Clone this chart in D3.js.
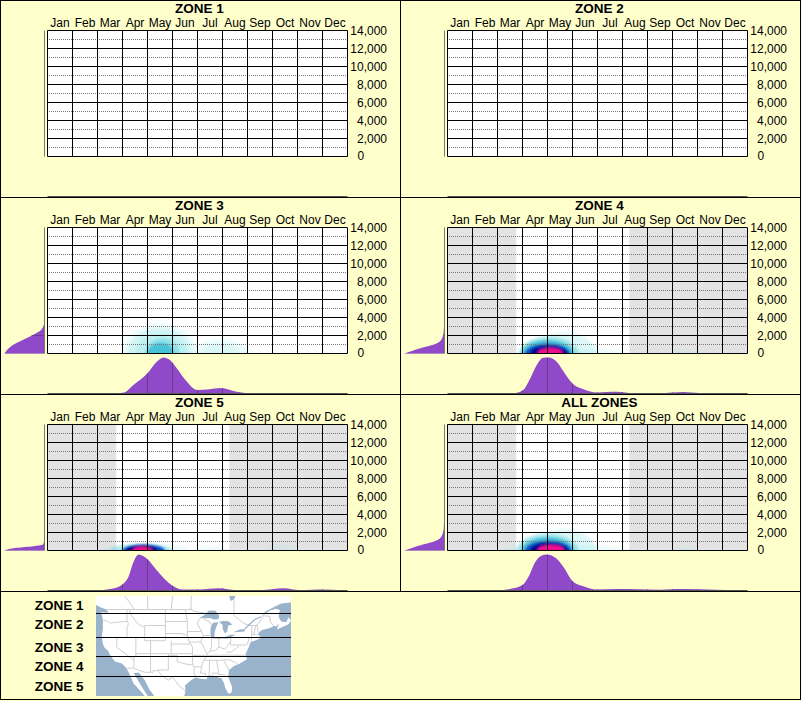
<!DOCTYPE html>
<html>
<head>
<meta charset="utf-8">
<script src="https://cdn.jsdelivr.net/npm/d3@7"></script>
<style>
  html, body { margin: 0; padding: 0; background: #ffffcc; }
  svg { display: block; font-family: "Liberation Sans", Arial, sans-serif; }
  .title, .legend-label { font-size: 13.5px; font-weight: 700; fill: #000; }
  .axis text { font-size: 12px; fill: #000; font-family: "Liberation Sans", Arial, sans-serif; }
  .axis path { display: none; }
</style>
</head>
<body>
<svg id="chart" width="801" height="701"></svg>
<script>
// ---- chart values ----
const months = ["Jan","Feb","Mar","Apr","May","Jun","Jul","Aug","Sep","Oct","Nov","Dec"];
const yTicks = [0, 2000, 4000, 6000, 8000, 10000, 12000, 14000];
const yMinor = [1000, 3000, 5000, 7000, 9000, 11000, 13000];
const yMax = 14000;
const panelTitles = ["ZONE 1", "ZONE 2", "ZONE 3", "ZONE 4", "ZONE 5", "ALL ZONES"];

// months with no growing season (month position from, to) per panel
const offSeason = [
  [],
  [],
  [],
  [[0, 2.75], [7.27, 12]],
  [[0, 2.75], [7.27, 12]],
  [[0, 2.75], [7.27, 12]]
];

// density along the year: [month position, percent of peak]
const monthDensity = [
  [],
  [],
  [[2.5,0],[3.04,2],[3.45,24],[4,56],[4.37,88],[4.64,100],[4.9,93],[5.17,70],[5.57,33],[5.97,10],[6.5,12],[6.9,15],[7.44,7],[7.97,1],[8.4,0]],
  [[2.64,0],[3,8],[3.31,42],[3.57,79],[3.83,99],[4.04,100],[4.37,88],[4.64,61],[5,28],[5.44,12],[5.97,3],[6.77,5],[7.44,1],[8.5,1],[9.44,4],[10.1,1],[10.8,0]],
  [[1.97,0],[2.5,4],[3,17],[3.24,38],[3.44,79],[3.64,100],[4.01,86],[4.37,56],[5,13],[5.37,3],[6.1,3],[6.84,6],[7.57,1],[8.5,1],[9.44,6],[10.1,1],[11.04,3],[11.8,0]],
  [[2.1,0],[2.5,4],[3,15],[3.24,38],[3.51,79],[3.77,97],[3.97,100],[4.37,88],[4.64,65],[5,26],[5.44,12],[5.97,3],[6.77,4],[8.5,2],[9.44,4],[10.77,2],[11.44,1],[11.84,0]]
];

// density along the y axis: [value, percent of peak]
const valueDensity = [
  [],
  [],
  [[0,100],[960,78],[1520,53],[2070,28],[2630,8],[3550,0]],
  [[0,100],[590,60],[960,28],[1520,8],[2440,2],[4660,0]],
  [[0,100],[300,69],[480,28],[700,3],[1330,0]],
  [[0,100],[590,60],[960,28],[1520,8],[2440,2],[4660,0]]
];

// heat colour levels, low to high
const heatColors = ["#7fe5e5","#7fe5e5","#4fd0dc","#2ab4d0","#1a90c8","#0a50c8","#0020c0","#000090","#8a1090","#f0108c"];
const heatOpacity = [0.15, 0.25, 0.4, 0.7, 1, 1, 1, 1, 1, 1];

// contour bands: [month from, month to, top value, colour level]
const heatBands = [
  [],
  [],
  [[3,6,3300,0],[3.2,5.8,2800,1],[3.5,5.6,2200,1],[3.9,5.3,1700,2],[4,5.05,1200,3],[5.9,8,1650,0],[6.2,7.7,1100,0]],
  [[2.7,7.2,500,0],[9,10.2,300,0],[3.6,5.9,2500,0],[2.9,6,2200,0],[2.85,5.25,1850,2],[2.95,5.05,1500,3],[3.1,4.9,1100,5],[3.3,4.78,850,7],[3.6,4.62,650,9]],
  [[2.1,5.7,750,0],[6,7.2,400,0],[8.8,10,600,0],[2.5,5,720,2],[3,4.7,700,5],[3.15,4.4,600,7],[3.4,4.2,430,9]],
  [[2.1,7.2,600,0],[9.1,10,400,0],[3.6,5.9,2500,0],[2.8,6,2200,0],[2.75,5.25,1850,2],[2.95,5.05,1500,3],[3.1,4.95,1100,5],[3.3,4.82,850,7],[3.6,4.68,650,9]]
];

// legend
const zoneNames = ["ZONE 1", "ZONE 2", "ZONE 3", "ZONE 4", "ZONE 5"];
const zoneEdges = [48, 42, 36, 30]; // latitude
const zoneLabelLat = [50.2, 45.4, 39.1, 33.1, 27.4];

// map outlines as [lon, lat]
const landOutline = [[-128,51],[-124.5,49.5],[-123,49],[-122.5,48.2],[-124.6,48.3],[-124.1,46.5],[-124.1,44],[-124.4,42.5],[-124.2,40.5],[-123.7,39],[-122.5,37.8],[-121.9,36.5],[-120.6,34.6],[-118.5,34],[-117.2,32.6],[-116,30.5],[-114.8,28],[-112.5,26],[-110.5,24],[-109.5,22.9],[-110,24.5],[-111.5,26.5],[-113,28.5],[-114.7,31],[-113,31.2],[-111,29],[-109.5,26.5],[-108,24.8],[-106.5,23],[-98,22],[-97.7,24],[-97.2,26],[-97.3,27.5],[-95,29],[-93.5,29.7],[-91,29.3],[-89.3,29.2],[-89,30.2],[-87,30.3],[-85,29.7],[-83.8,29.5],[-82.8,28],[-82.5,27],[-81.5,25.5],[-81,25.1],[-80.3,25.4],[-80,26.8],[-80.6,28.3],[-81.3,30],[-81,32],[-79.5,33.2],[-77.9,33.9],[-75.6,35.3],[-76,37],[-75.5,38],[-74.5,39.5],[-74,40.6],[-72,41],[-70.5,41.6],[-70,42],[-70.8,42.8],[-70,43.8],[-68,44.4],[-67,44.9],[-66,44.8],[-65,45.5],[-65.8,44],[-64,44.5],[-61,45.3],[-60,46.3],[-61,47],[-62,45.8],[-64,46],[-65,47],[-65,48.2],[-64.3,48.8],[-66,49.2],[-68,48.8],[-70,47.2],[-69,48.5],[-67,49.7],[-64,50.6],[-60,50.8],[-60,56],[-130,56]];
const lakes = [
  [[-92,46.8],[-90,47.7],[-88.5,48.8],[-86,48.7],[-84.7,47.5],[-84.8,46.6],[-86.5,46.5],[-88,46.9],[-89.5,46.8]],
  [[-87.6,41.7],[-86.5,42],[-86.3,43.5],[-85.5,45],[-85,45.8],[-87,45.7],[-87.8,44.5],[-87.9,43]],
  [[-84.7,45.9],[-83.4,45.2],[-83.3,44],[-82.5,43],[-81.7,43.5],[-81.3,45],[-80,45.2],[-81,46],[-83,46.2]],
  [[-83.4,41.7],[-81.5,41.6],[-79,42.7],[-80.5,42.7],[-82.5,42.1]],
  [[-79.7,43.3],[-76.3,43.5],[-76.3,44.1],[-78,43.95]],
  [[-81,52.6],[-79,52.6],[-79.5,51.6],[-80.5,51.2]]
];
const river = [[-76.3,44.1],[-75,45],[-72,46.5],[-70,47.2]];
const borders = [
  [[-123,49],[-95.2,49],[-95,49.3],[-94.6,48.7],[-92,48.3],[-89.6,48]],
  [[-74.7,45],[-71.5,45],[-70.3,45.9],[-70,46.7],[-69.2,47.4],[-68,47.3],[-67.8,45.7],[-67,44.9]],
  [[-124,46.2],[-123,46.2],[-122,45.6],[-119,45.9],[-117,46]],
  [[-117,49],[-117,46],[-116.9,45.9],[-116.5,45.5],[-117,44.3],[-117,42]],
  [[-124.2,42],[-111,42]],
  [[-120,42],[-120,39],[-114.6,35],[-114.7,32.7]],
  [[-114,42],[-114,36.2],[-114.7,36],[-114.6,35]],
  [[-116,49],[-116,48],[-114.5,46.6],[-113.5,45.5],[-111,44.5]],
  [[-111,45],[-111,41],[-104,41]],
  [[-111,45],[-104,45]],
  [[-104,49],[-104,41]],
  [[-114,37],[-94.6,37]],
  [[-109,41],[-109,31.3]],
  [[-102,41],[-102,37]],
  [[-104,43],[-98.5,43],[-96.5,42.5]],
  [[-104,46],[-96.5,46]],
  [[-102,40],[-95.3,40]],
  [[-103,37],[-103,32],[-106.6,32],[-106.5,31.8]],
  [[-103,36.5],[-100,36.5],[-100,34.6],[-97,33.8],[-94.5,33.6]],
  [[-109,31.3],[-108.2,31.3],[-108.2,31.8],[-106.5,31.8]],
  [[-114.8,32.5],[-111,31.3],[-109,31.3]],
  [[-117.1,32.5],[-114.8,32.7]],
  [[-106.5,31.8],[-104.5,29.7],[-103,29],[-101.5,29.8],[-99.5,27.5],[-97.2,25.9]],
  [[-94.5,33.6],[-94,33],[-94,31.5],[-93.6,30]],
  [[-94.6,39.1],[-94.6,36.5],[-94.5,33.6]],
  [[-95.8,40.6],[-91.5,40.6]],
  [[-94.6,36.5],[-90,36.5],[-89.5,36]],
  [[-96.5,43.5],[-91.2,43.5]],
  [[-97.2,49],[-96.5,46],[-96.5,42.5],[-95.8,40.6],[-94.6,39.1]],
  [[-92.1,46.7],[-92.8,45.5],[-91.2,43.5],[-90.6,42.5],[-91.5,40.6],[-90.2,38.7],[-89.2,37],[-89.5,36],[-90.5,35],[-91.2,33],[-91.6,31],[-89.7,31],[-89.6,30.2]],
  [[-94,33],[-91.2,33]],
  [[-90.4,46.6],[-88,45.8],[-87.6,45.1]],
  [[-90.6,42.5],[-87.8,42.5]],
  [[-87.5,41.7],[-87.5,39.3],[-88,37.8]],
  [[-84.8,41.7],[-84.8,39.1]],
  [[-87,41.75],[-83.5,41.7]],
  [[-89.2,37],[-88,37.8],[-86,38],[-84.8,39.1],[-82.6,38.4],[-80.6,40.6]],
  [[-80.5,42],[-80.5,39.7],[-75.8,39.7]],
  [[-79.8,42],[-75.3,42],[-74.7,41.4],[-75.5,39.8]],
  [[-73.4,45],[-73.5,42],[-73.6,41]],
  [[-73.5,42],[-71.1,42]],
  [[-71.5,45],[-72.5,42.8]],
  [[-71,45.3],[-70.7,43.1]],
  [[-73.3,42.75],[-71,42.8]],
  [[-89.5,36.5],[-81.7,36.6],[-75.9,36.55]],
  [[-82,37.5],[-80.3,37.5],[-78,39.3]],
  [[-90.3,35],[-84.3,35],[-81,35.2],[-79,34.3],[-78.5,33.9]],
  [[-88.2,35],[-88.4,30.3]],
  [[-85.6,35],[-85,32],[-85,31]],
  [[-87.6,31],[-85,31],[-85,30.7],[-82.2,30.5]],
  [[-83,35],[-81,32]],
  [[-95.2,49],[-95,53]],
  [[-79.5,51.5],[-79.5,47.5],[-76.5,45.5],[-74.5,45]],
  [[-114.5,49],[-118,53]],
  [[-110,49],[-110,53]],
  [[-102,49],[-101.5,53]]
];

class ZonePanel {
  constructor(_config, _index) {
    this.config = {
      parentElement: _config.parentElement,
      left: _config.left,
      top: _config.top,
      plotWidth: 300,
      plotHeight: 126,
      marginGap: 40
    };
    this.index = _index;
    this.initVis();
  }

  initVis() {
    let vis = this;

    vis.xScale = d3.scaleLinear().domain([0, 12]).range([0, vis.config.plotWidth]);
    vis.monthScale = d3.scaleBand().domain(months).range([0, vis.config.plotWidth]);
    vis.yScale = d3.scaleLinear().domain([0, yMax]).range([vis.config.plotHeight, 0]);
    // side charts, both 0 to peak
    vis.monthDensityScale = d3.scaleLinear().domain([0, 100]).range([vis.config.plotHeight + vis.config.marginGap, vis.config.plotHeight + 4]);
    vis.valueDensityScale = d3.scaleLinear().domain([0, 100]).range([-3, -43]);

    vis.chart = vis.config.parentElement.append("g")
      .attr("transform", `translate(${vis.config.left},${vis.config.top})`);

    vis.renderVis();
  }

  renderVis() {
    let vis = this;
    const w = vis.config.plotWidth, h = vis.config.plotHeight;
    const clipId = `plot-clip-${vis.index}`;

    vis.chart.append("rect").attr("width", w).attr("height", h).attr("fill", "#fff");

    vis.chart.selectAll(".off-season")
      .data(offSeason[vis.index])
      .join("rect")
      .attr("class", "off-season")
      .attr("x", d => vis.xScale(d[0]))
      .attr("width", d => vis.xScale(d[1]) - vis.xScale(d[0]))
      .attr("height", h)
      .attr("fill", "#e3e3e3");

    vis.chart.append("clipPath").attr("id", clipId)
      .append("rect").attr("width", w).attr("height", h);

    // blur softens the contour steps into the smooth kernel look
    vis.chart.append("g").attr("clip-path", `url(#${clipId})`)
      .append("g").attr("filter", "url(#heat-blur)")
      .selectAll("ellipse")
      .data(heatBands[vis.index])
      .join("ellipse")
      .attr("cx", d => (vis.xScale(d[0]) + vis.xScale(d[1])) / 2)
      .attr("cy", h)
      .attr("rx", d => (vis.xScale(d[1]) - vis.xScale(d[0])) / 2)
      .attr("ry", d => h - vis.yScale(d[2]))
      .attr("fill", d => heatColors[d[3]])
      .attr("fill-opacity", d => heatOpacity[d[3]]);

    // dotted midlines, then solid grid
    vis.chart.selectAll(".minor")
      .data(yMinor)
      .join("line")
      .attr("class", "minor")
      .attr("x1", 0).attr("x2", w)
      .attr("y1", d => vis.yScale(d)).attr("y2", d => vis.yScale(d))
      .attr("stroke", "#777")
      .attr("stroke-dasharray", "1 1")
      .attr("stroke-dashoffset", 0.5);

    vis.chart.selectAll(".major")
      .data(yTicks)
      .join("line")
      .attr("class", "major")
      .attr("x1", 0).attr("x2", w)
      .attr("y1", d => vis.yScale(d)).attr("y2", d => vis.yScale(d))
      .attr("stroke", "#000");

    vis.chart.selectAll(".month-line")
      .data(d3.range(0, 13))
      .join("line")
      .attr("class", "month-line")
      .attr("x1", d => vis.xScale(d)).attr("x2", d => vis.xScale(d))
      .attr("y1", 0).attr("y2", h)
      .attr("stroke", "#000");

    // month labels
    vis.chart.append("g")
      .attr("class", "axis")
      .call(d3.axisTop(vis.monthScale).tickSize(0).tickPadding(3.5));

    // value labels, the zero sits left aligned in the original
    const yAxisG = vis.chart.append("g")
      .attr("class", "axis")
      .attr("transform", `translate(${w},0)`)
      .call(d3.axisRight(vis.yScale).tickValues(yTicks).tickSize(0).tickFormat(d3.format(",")));
    yAxisG.selectAll("text")
      .attr("text-anchor", d => d === 0 ? "start" : "end")
      .attr("x", d => d === 0 ? 10 : 39.5)
      .attr("y", d => d === 0 ? -1 : 0);

    vis.chart.append("text")
      .attr("class", "title")
      .attr("text-anchor", "middle")
      .attr("x", w / 2 + 2)
      .attr("y", -18)
      .text(panelTitles[vis.index]);

    vis.renderMonthDensity();
    vis.renderValueDensity();
  }

  renderMonthDensity() {
    let vis = this;
    const h = vis.config.plotHeight, w = vis.config.plotWidth;
    const baseline = h + vis.config.marginGap;
    const clipId = `month-density-${vis.index}`;
    const area = d3.area()
      .x(d => vis.xScale(d[0]))
      .y0(baseline)
      .y1(d => vis.monthDensityScale(d[1]))
      .curve(d3.curveMonotoneX);

    vis.chart.append("clipPath").attr("id", clipId)
      .append("path").attr("d", area(monthDensity[vis.index]));

    vis.chart.append("path")
      .attr("d", area(monthDensity[vis.index]))
      .attr("fill", "#8f49c9");

    vis.chart.append("g").attr("clip-path", `url(#${clipId})`)
      .selectAll("line")
      .data(d3.range(1, 12))
      .join("line")
      .attr("x1", d => vis.xScale(d)).attr("x2", d => vis.xScale(d))
      .attr("y1", h).attr("y2", baseline)
      .attr("stroke", "#6a3a90");

    vis.chart.append("line")
      .attr("x1", 0).attr("x2", w)
      .attr("y1", baseline).attr("y2", baseline)
      .attr("stroke", "#555");
  }

  renderValueDensity() {
    let vis = this;
    const h = vis.config.plotHeight;
    const clipId = `value-density-${vis.index}`;
    const area = d3.area()
      .y(d => vis.yScale(d[0]))
      .x0(-3)
      .x1(d => vis.valueDensityScale(d[1]))
      .curve(d3.curveMonotoneY);

    vis.chart.append("clipPath").attr("id", clipId)
      .append("path").attr("d", area(valueDensity[vis.index]));

    vis.chart.append("path")
      .attr("d", area(valueDensity[vis.index]))
      .attr("fill", "#8f49c9");

    vis.chart.append("g").attr("clip-path", `url(#${clipId})`)
      .selectAll("line")
      .data(yTicks)
      .join("line")
      .attr("x1", -43).attr("x2", -3)
      .attr("y1", d => vis.yScale(d)).attr("y2", d => vis.yScale(d))
      .attr("stroke", "#6a3a90");

    vis.chart.append("line")
      .attr("x1", -3).attr("x2", -3)
      .attr("y1", 0).attr("y2", h)
      .attr("stroke", "#777");
  }
}

const svg = d3.select("#chart");

svg.append("rect").attr("width", 801).attr("height", 701).attr("fill", "#ffffcc");

svg.append("defs").append("filter")
  .attr("id", "heat-blur")
  .attr("x", "-30%").attr("y", "-30%").attr("width", "160%").attr("height", "160%")
  .append("feGaussianBlur").attr("stdDeviation", 1.3);

panelTitles.forEach((d, i) => {
  new ZonePanel({
    parentElement: svg,
    left: 47.5 + (i % 2) * 400,
    top: 30.5 + Math.floor(i / 2) * 197
  }, i);
});

// ---- legend map ----
const mapBox = {x: 96, y: 596, width: 195, height: 100};
const lonScale = d3.scaleLinear()
  .domain([-127, -117, -97, -81, -75.6, -71, -67, -60])
  .range([93, 127, 186, 229, 247, 257, 274, 291]);
const latScale = d3.scaleLinear()
  .domain([24.5, 30, 36, 42, 48, 52.5])
  .range([696, 676.5, 657, 637.5, 613.5, 596]);

const mapProjection = d3.geoTransform({
  point: function(lon, lat) { this.stream.point(lonScale(lon), latScale(lat)); }
});
const mapPath = d3.geoPath(mapProjection);
const seaColor = "#9ab3cc";

svg.append("clipPath").attr("id", "map-clip")
  .append("rect")
  .attr("x", mapBox.x).attr("y", mapBox.y)
  .attr("width", mapBox.width).attr("height", mapBox.height);

const mapG = svg.append("g").attr("clip-path", "url(#map-clip)");

mapG.append("rect")
  .attr("x", mapBox.x).attr("y", mapBox.y)
  .attr("width", mapBox.width).attr("height", mapBox.height)
  .attr("fill", seaColor);

mapG.append("path")
  .attr("d", mapPath({type: "Polygon", coordinates: [landOutline.concat([landOutline[0]])]}))
  .attr("fill", "#fff");

mapG.append("path")
  .attr("d", mapPath({type: "MultiLineString", coordinates: borders}))
  .attr("fill", "none")
  .attr("stroke", "#cfcfcf")
  .attr("stroke-width", 1);

mapG.selectAll(".lake")
  .data(lakes)
  .join("path")
  .attr("class", "lake")
  .attr("d", d => mapPath({type: "Polygon", coordinates: [d.concat([d[0]])]}))
  .attr("fill", seaColor);

mapG.append("path")
  .attr("d", mapPath({type: "LineString", coordinates: river}))
  .attr("fill", "none")
  .attr("stroke", seaColor)
  .attr("stroke-width", 1.2);

mapG.selectAll(".zone-edge")
  .data(zoneEdges)
  .join("line")
  .attr("class", "zone-edge")
  .attr("x1", mapBox.x).attr("x2", mapBox.x + mapBox.width)
  .attr("y1", d => Math.round(latScale(d)) - 0.5).attr("y2", d => Math.round(latScale(d)) - 0.5)
  .attr("stroke", "#000");

svg.selectAll(".legend-label")
  .data(zoneNames)
  .join("text")
  .attr("class", "legend-label")
  .attr("text-anchor", "end")
  .attr("x", 83.5)
  .attr("y", (d, i) => latScale(zoneLabelLat[i]) + 5)
  .text(d => d);

// panel borders
const panelRows = [0.5, 197.5, 394.5, 591.5, 699.5];
const panelCols = [0.5, 400.5, 800.5];
svg.selectAll(".row-border")
  .data(panelRows)
  .join("line")
  .attr("class", "row-border")
  .attr("x1", 0).attr("x2", 801)
  .attr("y1", d => d).attr("y2", d => d)
  .attr("stroke", "#000");
svg.selectAll(".col-border")
  .data(panelCols)
  .join("line")
  .attr("class", "col-border")
  .attr("x1", d => d).attr("x2", d => d)
  .attr("y1", 0).attr("y2", d => d === 400.5 ? 591.5 : 700)
  .attr("stroke", "#000");
</script>
</body>
</html>
